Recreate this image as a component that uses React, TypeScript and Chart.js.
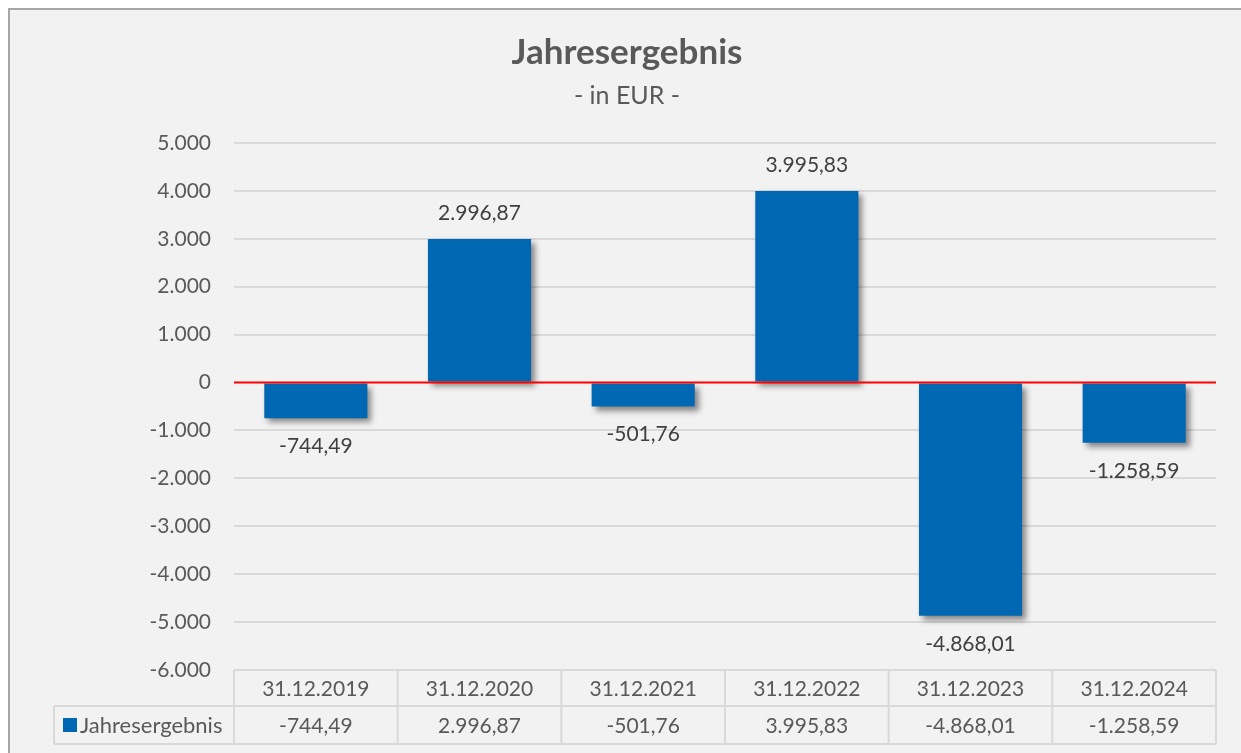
import React, { useEffect, useRef } from "react";
import { Chart, registerables } from "chart.js";

Chart.register(...registerables);

const categories: string[] = ["31.12.2019", "31.12.2020", "31.12.2021", "31.12.2022", "31.12.2023", "31.12.2024"];
const values: number[] = [-744.49, 2996.87, -501.76, 3995.83, -4868.01, -1258.59];
const seriesName = "Jahresergebnis";
const titleText = "Jahresergebnis";
const subtitleText = "- in EUR -";
const yMin = -6000;
const yMax = 5000;
const yStep = 1000;

const FONT = "Lato, 'Open Sans', sans-serif";
const BAR_COLOR = "#0068B3";
const TEXT_GRAY = "#595959";
const LABEL_GRAY = "#404040";
const GRID = "#d9d9d9";

function fmtDe(v: number, dec: number): string {
  const neg = v < 0;
  const abs = Math.abs(v);
  const fixed = abs.toFixed(dec);
  const [intPart, decPart] = fixed.split(".");
  const withDots = intPart.replace(/\B(?=(\d{3})+(?!\d))/g, ".");
  return (neg ? "-" : "") + withDots + (decPart ? "," + decPart : "");
}

const decorPlugin = {
  id: "decor",
  beforeDraw(chart: any) {
    const { ctx, width, height } = chart;
    ctx.save();
    ctx.fillStyle = "#ffffff";
    ctx.fillRect(0, 0, width, height);
    ctx.fillStyle = "#f2f2f2";
    ctx.fillRect(8, 8, width - 8, height - 8);
    ctx.strokeStyle = "#a6a6a6";
    ctx.lineWidth = 2;
    ctx.beginPath();
    ctx.moveTo(9, height);
    ctx.lineTo(9, 9);
    ctx.lineTo(width, 9);
    ctx.stroke();
    // title
    ctx.fillStyle = TEXT_GRAY;
    ctx.textAlign = "center";
    ctx.textBaseline = "middle";
    ctx.font = `bold 35px ${FONT}`;
    ctx.fillText(titleText, 627, 53);
    ctx.font = `25px ${FONT}`;
    ctx.fillText(subtitleText, 627, 96);
    ctx.restore();
  },
  beforeDatasetDraw(chart: any) {
    const ctx = chart.ctx;
    ctx.save();
    ctx.shadowColor = "rgba(0,0,0,0.45)";
    ctx.shadowBlur = 6;
    ctx.shadowOffsetX = 4;
    ctx.shadowOffsetY = 4;
  },
  afterDatasetDraw(chart: any) {
    chart.ctx.restore();
  },
  afterDatasetsDraw(chart: any) {
    const { ctx, chartArea, scales } = chart;
    const y = scales.y;
    const x = scales.x;
    ctx.save();
    // zero line
    const y0 = y.getPixelForValue(0);
    ctx.strokeStyle = "#ff0000";
    ctx.lineWidth = 2;
    ctx.beginPath();
    ctx.moveTo(chartArea.left, y0);
    ctx.lineTo(chartArea.right, y0);
    ctx.stroke();

    // data labels
    const meta = chart.getDatasetMeta(0);
    ctx.fillStyle = LABEL_GRAY;
    ctx.font = `21px ${FONT}`;
    ctx.textAlign = "center";
    ctx.textBaseline = "middle";
    meta.data.forEach((bar: any, i: number) => {
      const v = values[i];
      const ly = v >= 0 ? bar.y - 26 : bar.y + 28;
      ctx.fillText(fmtDe(v, 2), bar.x, ly);
    });

    // data table
    const colW = (chartArea.right - chartArea.left) / categories.length;
    const top = chartArea.bottom;
    const mid = top + 36;
    const bot = mid + 38;
    const labelLeft = 54;
    ctx.strokeStyle = GRID;
    ctx.lineWidth = 2;
    ctx.beginPath();
    ctx.moveTo(chartArea.left, top);
    ctx.lineTo(chartArea.right, top);
    ctx.moveTo(labelLeft, mid);
    ctx.lineTo(chartArea.right, mid);
    ctx.moveTo(labelLeft, bot);
    ctx.lineTo(chartArea.right, bot);
    ctx.moveTo(labelLeft, mid);
    ctx.lineTo(labelLeft, bot);
    for (let i = 0; i <= categories.length; i++) {
      const cx = chartArea.left + i * colW;
      ctx.moveTo(cx, top);
      ctx.lineTo(cx, bot);
    }
    ctx.stroke();

    ctx.fillStyle = TEXT_GRAY;
    ctx.font = `21px ${FONT}`;
    ctx.textAlign = "center";
    ctx.textBaseline = "middle";
    categories.forEach((c, i) => {
      const cx = x.getPixelForValue(i);
      ctx.fillText(c, cx, (top + mid) / 2 + 1);
      ctx.fillText(fmtDe(values[i], 2), cx, (mid + bot) / 2 + 1);
    });
    // legend key
    ctx.fillStyle = BAR_COLOR;
    ctx.fillRect(63, mid + 12, 14, 14);
    ctx.fillStyle = TEXT_GRAY;
    ctx.textAlign = "left";
    ctx.font = `22px ${FONT}`;
    ctx.fillText(seriesName, 80, (mid + bot) / 2 + 1);
    ctx.restore();
  },
};

export default function App() {
  const canvasRef = useRef<HTMLCanvasElement | null>(null);

  useEffect(() => {
    const canvas = canvasRef.current;
    if (!canvas) return;
    const chart = new Chart(canvas, {
      type: "bar",
      data: {
        labels: categories,
        datasets: [
          {
            label: seriesName,
            data: values,
            backgroundColor: BAR_COLOR,
            borderWidth: 0,
            categoryPercentage: 1,
            barPercentage: 0.63,
          },
        ],
      },
      options: {
        animation: false,
        responsive: false,
        devicePixelRatio: 1,
        layout: { padding: { left: 0, right: 25, top: 143, bottom: 83 } },
        plugins: {
          legend: { display: false },
          tooltip: { enabled: false },
          title: { display: false },
        },
        scales: {
          x: { display: false },
          y: {
            min: yMin,
            max: yMax,
            afterFit: (s: any) => {
              s.width = 234;
            },
            ticks: {
              stepSize: yStep,
              padding: 23,
              color: TEXT_GRAY,
              font: { family: FONT, size: 21 },
              callback: (v: any) => fmtDe(Number(v), 0),
            },
            grid: {
              color: (c: any) => (c.tick && c.tick.value === 0 ? "rgba(0,0,0,0)" : GRID),
              lineWidth: 2,
              drawTicks: false,
            },
            border: { display: false },
          },
        },
      },
      plugins: [decorPlugin],
    });
    return () => chart.destroy();
  }, []);

  return (
    <canvas
      ref={canvasRef}
      width={1241}
      height={753}
      style={{ position: "fixed", left: 0, top: 0, width: 1241, height: 753, display: "block" }}
    />
  );
}
